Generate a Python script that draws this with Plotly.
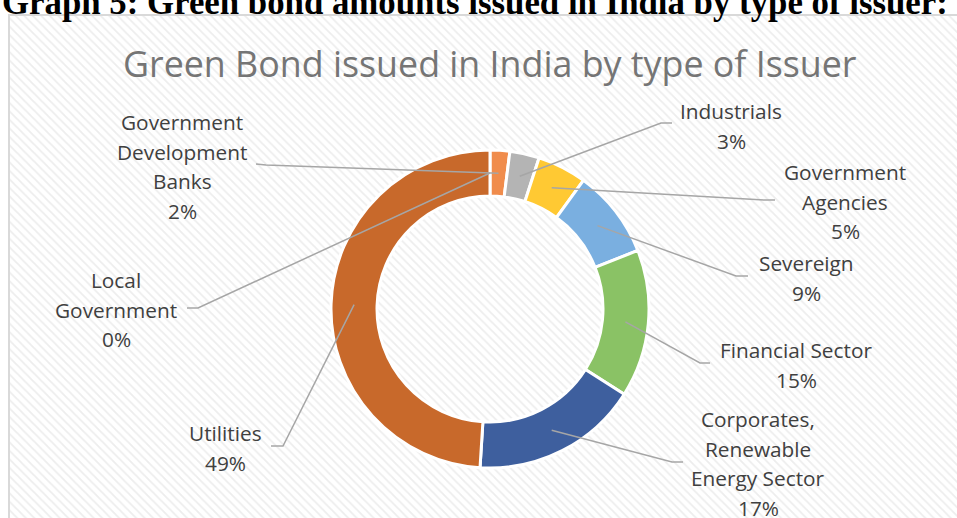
import math
import plotly.graph_objects as go

# ---------------- data ----------------
categories = ["Local Government", "Government Development Banks", "Industrials",
              "Government Agencies", "Severeign", "Financial Sector",
              "Corporates, Renewable Energy Sector", "Utilities"]
values = [0, 2, 3, 5, 9, 15, 17, 49]
label_lines = [["Local", "Government"],
               ["Government", "Development", "Banks"],
               ["Industrials"],
               ["Government", "Agencies"],
               ["Severeign"],
               ["Financial Sector"],
               ["Corporates,", "Renewable", "Energy Sector"],
               ["Utilities"]]
slice_colors = ["#4472c4", "#f08c4c", "#b4b4b4", "#ffc933", "#7aafe0",
                "#8ac265", "#3e5f9e", "#c8692b"]

title_text = "Green Bond issued in India by type of Issuer"
heading_text = "Graph 5: Green bond amounts issued in India by type of issuer:"

# ---------------- layout constants (pixels) ----------------
W, H = 957, 518
cx, cy, r_out, r_in = 490, 309, 159, 113
r_mid = (r_out + r_in) / 2

label_x = [116, 182, 731, 845, 806, 796, 758, 225]
label_y0 = [280, 122, 111, 172, 263, 350, 419, 433]
line_gap = 29.5
leader_end = [(187, 308), (256, 164), (672, 123), (775, 200),
              (748, 276), (710, 363), (683, 462), (271, 446)]
leader_elbow = [(198, 308), (266, 165), (661, 123), (764, 200),
                (736, 276), (700, 363), (672, 462), (283, 446)]

fig = go.Figure()

# hatched chart-area background
fig.add_trace(go.Scatter(
    x=[10, W + 5, W + 5, 10, 10], y=[16, 16, H + 5, H + 5, 16],
    fill="toself", mode="lines", line=dict(width=0),
    fillcolor="white",
    fillpattern=dict(shape="\\", size=6, solidity=0.3,
                     fgcolor="#dcdcdc", bgcolor="white"),
    hoverinfo="skip", showlegend=False))

# donut
fig.add_trace(go.Pie(
    labels=categories, values=values, sort=False, direction="clockwise",
    rotation=0, hole=r_in / r_out, textinfo="none",
    marker=dict(colors=slice_colors, line=dict(color="white", width=3)),
    domain=dict(x=[(cx - r_out) / W, (cx + r_out) / W],
                y=[(H - cy - r_out) / H, (H - cy + r_out) / H]),
    showlegend=False, hoverinfo="label+percent"))

total = sum(values)
shapes = []
annotations = []
cum = 0
for i, v in enumerate(values):
    theta = 2 * math.pi * (cum + v / 2) / total
    cum += v
    px = cx + r_mid * math.sin(theta)
    py = cy - r_mid * math.cos(theta)
    ex, ey = leader_end[i]
    bx, by = leader_elbow[i]
    shapes.append(dict(type="path", xref="x", yref="y",
                       path=f"M {ex},{ey} L {bx},{by} L {px:.1f},{py:.1f}",
                       line=dict(color="#a6a6a6", width=1.5)))
    pct = f"{round(100 * v / total)}%"
    lines = label_lines[i] + [pct]
    for k, t in enumerate(lines):
        annotations.append(dict(
            x=label_x[i], y=label_y0[i] + k * line_gap, xref="x", yref="y",
            text=t, showarrow=False, xanchor="center", yanchor="middle",
            font=dict(family="Open Sans", size=20.8, color="#404040")))

# frame of chart area
shapes.append(dict(type="rect", xref="x", yref="y", x0=9, y0=15, x1=W + 20, y1=H + 20,
                   line=dict(color="#d9d9d9", width=2), fillcolor="rgba(0,0,0,0)",
                   layer="above"))

annotations.append(dict(x=490, y=63, xref="x", yref="y", text=title_text,
                        showarrow=False, xanchor="center", yanchor="middle",
                        font=dict(family="Open Sans", size=35.8, color="#757575")))
annotations.append(dict(x=0, y=2.5, xref="x", yref="y", text=heading_text,
                        showarrow=False, xanchor="left", yanchor="middle",
                        font=dict(family="Liberation Serif", size=34.8,
                                  color="black", weight=700)))

fig.update_layout(
    width=W, height=H, margin=dict(l=0, r=0, t=0, b=0),
    paper_bgcolor="white", plot_bgcolor="white",
    xaxis=dict(range=[0, W], visible=False, fixedrange=True, domain=[0, 1]),
    yaxis=dict(range=[H, 0], visible=False, fixedrange=True, domain=[0, 1]),
    shapes=shapes, annotations=annotations, showlegend=False)

fig.write_html("out.html")
